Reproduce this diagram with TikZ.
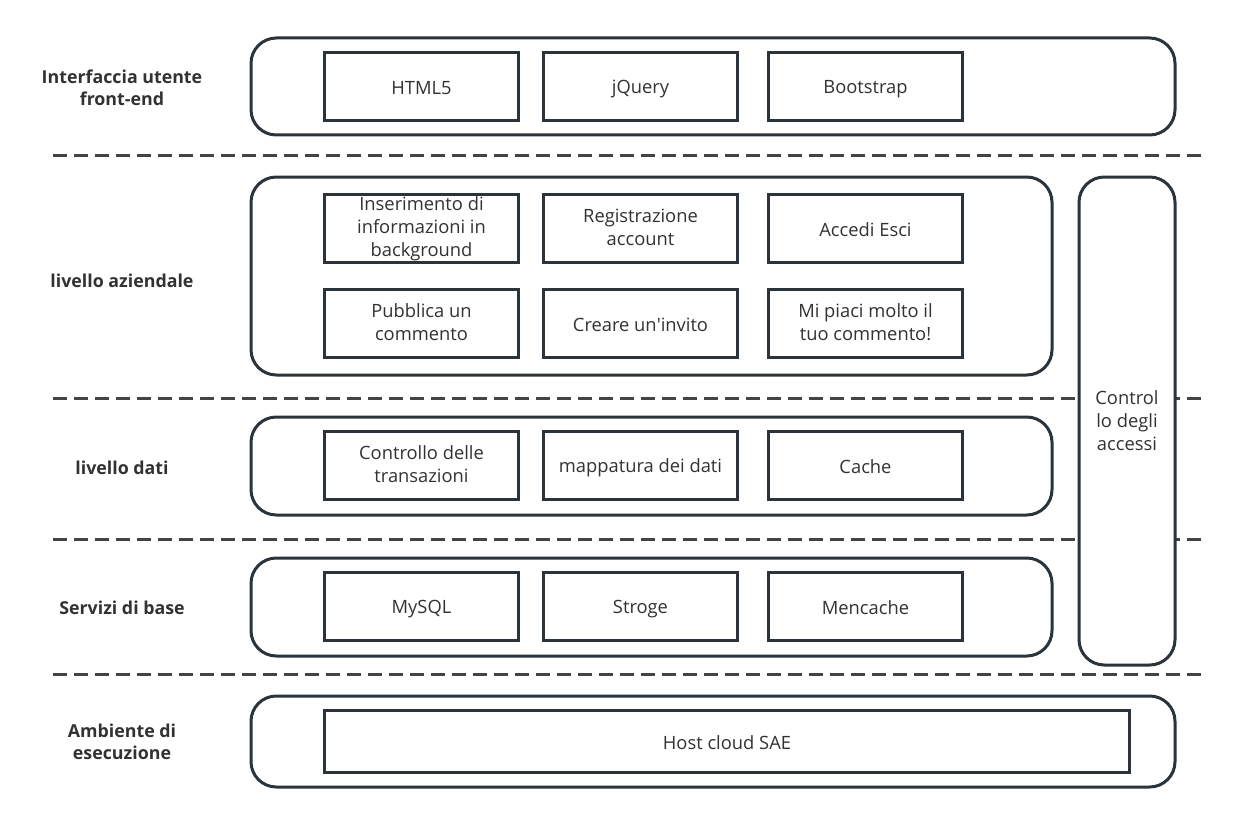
\documentclass[tikz,border=0pt]{standalone}
\usepackage{fontspec}
\setmainfont{Open Sans}
\definecolor{boxline}{HTML}{2B333B}
\definecolor{labeltext}{HTML}{323232}
\definecolor{sepline}{HTML}{444444}
\newcommand{\linestrut}{\rule[-2.2pt]{0pt}{16pt}}
\tikzset{
  layerbox/.style={draw=boxline,line width=2.25pt,rounded corners=19pt,fill=white,inner sep=0pt},
  techbox/.style={draw=boxline,line width=2.25pt,fill=white,inner sep=0pt,text=labeltext,align=center,
    font=\fontsize{13.75pt}{17.2pt}\selectfont,minimum width=146pt,minimum height=51pt,
    execute at begin node=\linestrut,execute at end node=\linestrut},
  layername/.style={text=labeltext,align=center,font=\fontsize{13.35pt}{16.6pt}\selectfont\bfseries,
    execute at begin node=\linestrut,execute at end node=\linestrut},
  sepdash/.style={draw=sepline,line width=2.25pt,dash pattern=on 10.5pt off 5.25pt}
}
\begin{document}
\begin{tikzpicture}[x=.75pt,y=-.75pt]
\useasboundingbox (0,0) rectangle (1240,824);
% separators
\coordinate (s1a) at (53,156);  \coordinate (s1b) at (1203,156);
\coordinate (s2a) at (53,398);  \coordinate (s2b) at (1203,398);
\coordinate (s3a) at (53,539);  \coordinate (s3b) at (1203,539);
\coordinate (s4a) at (53,674);  \coordinate (s4b) at (1203,674);
\draw[sepdash] (s1a)--(s1b);
\draw[sepdash] (s2a)--(s2b);
\draw[sepdash] (s3a)--(s3b);
\draw[sepdash] (s4a)--(s4b);

% layers
\node[layerbox,minimum width=693pt,minimum height=72.75pt] (front) at (713,86.5) {};
\node[layerbox,minimum width=600.75pt,minimum height=148.5pt] (biz) at (651.5,276) {};
\node[layerbox,minimum width=600.75pt,minimum height=73.5pt] (data) at (651.5,466) {};
\node[layerbox,minimum width=600.75pt,minimum height=73.5pt] (base) at (651.5,607) {};
\node[layerbox,minimum width=693pt,minimum height=68.25pt] (env) at (713,741.5) {};
\node[layerbox,text=labeltext,align=center,font=\fontsize{13.75pt}{17.2pt}\selectfont,
  minimum width=72pt,minimum height=366pt] (access) at (1127,421) {Control\\lo degli\\accessi};

% layer names
\node[layername] (frontname) at (122,89) {Interfaccia utente\\front-end};
\node[layername] (bizname) at (122,280) {livello aziendale};
\node[layername] (dataname) at (122,467) {livello dati};
\node[layername] (basename) at (122,607) {Servizi di base};
\node[layername] (envname) at (122,743) {Ambiente di\\esecuzione};

% boxes
\node[techbox] (html) at (421.5,86.5) {HTML5};
\node[techbox] (jquery) at (640.5,86.5) {jQuery};
\node[techbox] (bootstrap) at (865.5,86.5) {Bootstrap};

\node[techbox] (insert) at (421.5,228.5) {Inserimento di\\informazioni in\\background};
\node[techbox] (account) at (640.5,228.5) {Registrazione\\account};
\node[techbox] (login) at (865.5,228.5) {Accedi Esci};
\node[techbox] (comment) at (421.5,323.5) {Pubblica un\\commento};
\node[techbox] (invite) at (640.5,323.5) {Creare un\textquotesingle invito};
\node[techbox] (like) at (865.5,323.5) {Mi piaci molto il\\tuo commento!};

\node[techbox] (trans) at (421.5,465.5) {Controllo delle\\transazioni};
\node[techbox] (mapping) at (640.5,465.5) {mappatura dei dati};
\node[techbox] (cache) at (865.5,465.5) {Cache};

\node[techbox] (mysql) at (421.5,606.5) {MySQL};
\node[techbox] (stroge) at (640.5,606.5) {Stroge};
\node[techbox] (mencache) at (865.5,606.5) {Mencache};

\node[techbox,minimum width=604pt,minimum height=46.5pt] (host) at (727,741.5) {Host cloud SAE};
\end{tikzpicture}
\end{document}
